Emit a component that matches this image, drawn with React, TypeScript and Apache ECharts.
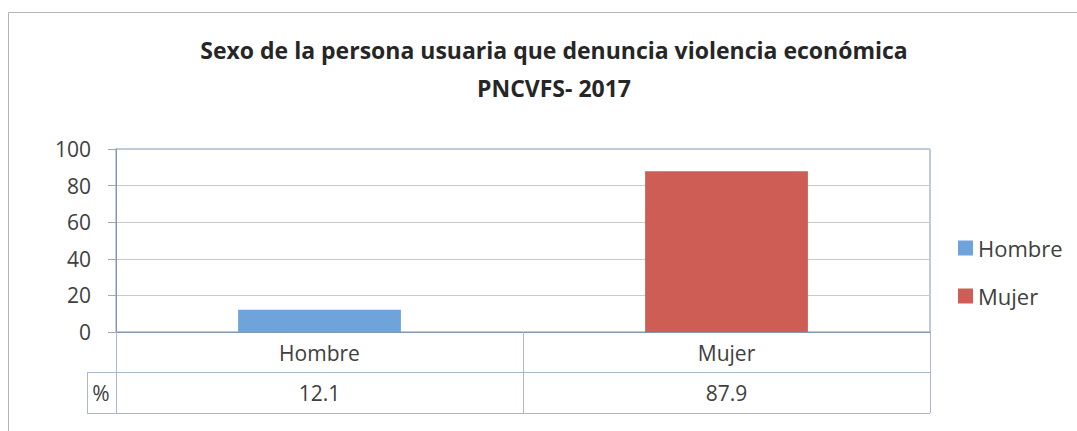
import React, { useEffect, useRef } from "react";
import * as echarts from "echarts";

const titleLines = ["Sexo de la persona usuaria que denuncia violencia económica", "PNCVFS- 2017"];
const categories = ["Hombre", "Mujer"];
const values = [12.1, 87.9];
const colors = ["#6FA3DC", "#CD5D55"];
const tableRowLabel = "%";
const yTicks = { min: 0, max: 100, interval: 20 };

const FONT = "'Open Sans', 'Noto Sans', sans-serif";
const AXIS_COLOR = "#8497B0";
const TABLE_COLOR = "#A9B8CC";
const TEXT_COLOR = "#404040";

export default function App() {
  const ref = useRef<HTMLDivElement>(null);
  useEffect(() => {
    if (!ref.current) return;
    const chart = echarts.init(ref.current, null, { renderer: "svg" });
    const series = categories.map((name, i) => ({
      name,
      type: "bar",
      stack: "all",
      barWidth: "40%",
      xAxisIndex: 0,
      itemStyle: { color: colors[i] },
      data: values.map((v, j) => (j === i ? v : "-")),
    }));
    chart.setOption({
      animation: false,
      backgroundColor: "#ffffff",
      title: {
        text: titleLines.join("\n"),
        left: 549,
        top: 26,
        textAlign: "center",
        textStyle: {
          fontFamily: FONT,
          fontWeight: "bold",
          fontSize: 23,
          lineHeight: 38,
          color: "#262626",
        },
      },
      legend: {
        orient: "vertical",
        left: 953,
        top: 231,
        itemWidth: 15,
        itemHeight: 15,
        itemGap: 24,
        icon: "rect",
        textStyle: { fontFamily: FONT, fontSize: 22, color: TEXT_COLOR, lineHeight: 24 },
        data: categories,
      },
      grid: {
        left: 116,
        right: 147,
        top: 149,
        bottom: 99,
        show: true,
        borderColor: AXIS_COLOR,
        borderWidth: 1,
        containLabel: false,
      },
      xAxis: [
        {
          type: "category",
          data: categories,
          position: "bottom",
          axisLine: { show: true, lineStyle: { color: AXIS_COLOR, width: 1 } },
          axisTick: { show: true, alignWithLabel: false, length: 81, lineStyle: { color: TABLE_COLOR } },
          axisLabel: { fontFamily: FONT, fontSize: 21, color: TEXT_COLOR, margin: 10 },
          splitLine: { show: false },
        },
        {
          type: "category",
          data: categories,
          position: "bottom",
          offset: 40,
          axisLine: { show: false },
          axisTick: { show: false },
          axisLabel: {
            fontFamily: FONT,
            fontSize: 21,
            color: TEXT_COLOR,
            margin: 10,
            formatter: (_v: string, idx: number) => values[idx].toFixed(1),
          },
          splitLine: { show: false },
        },
      ],
      yAxis: {
        type: "value",
        min: yTicks.min,
        max: yTicks.max,
        interval: yTicks.interval,
        axisLine: { show: true, lineStyle: { color: AXIS_COLOR } },
        axisTick: { show: true, length: 8, lineStyle: { color: "#A6A6A6" } },
        axisLabel: { fontFamily: FONT, fontSize: 21, color: TEXT_COLOR, margin: 25 },
        splitLine: { show: true, lineStyle: { color: "#C9C9C9" } },
      },
      graphic: [
        {
          type: "rect",
          shape: { x: 8.5, y: 12.5, width: 1200, height: 600 },
          style: { fill: "none", stroke: "#B5B5B5", lineWidth: 1 },
          silent: true,
          z: -1,
        },
        {
          type: "line",
          shape: { x1: 87, y1: 372.5, x2: 930, y2: 372.5 },
          style: { stroke: TABLE_COLOR, lineWidth: 1 },
        },
        {
          type: "line",
          shape: { x1: 87, y1: 413.5, x2: 930, y2: 413.5 },
          style: { stroke: TABLE_COLOR, lineWidth: 1 },
        },
        {
          type: "line",
          shape: { x1: 87.5, y1: 372.5, x2: 87.5, y2: 413.5 },
          style: { stroke: TABLE_COLOR, lineWidth: 1 },
        },
        {
          type: "text",
          x: 101,
          y: 393,
          style: {
            text: tableRowLabel,
            fontFamily: FONT,
            fontSize: 21,
            fill: TEXT_COLOR,
            textAlign: "center",
            textVerticalAlign: "middle",
          },
        },
      ],
      series,
    });
    return () => chart.dispose();
  }, []);
  return (
    <div
      ref={ref}
      style={{ position: "absolute", left: 0, top: 0, width: 1077, height: 431, background: "#fff" }}
    />
  );
}
